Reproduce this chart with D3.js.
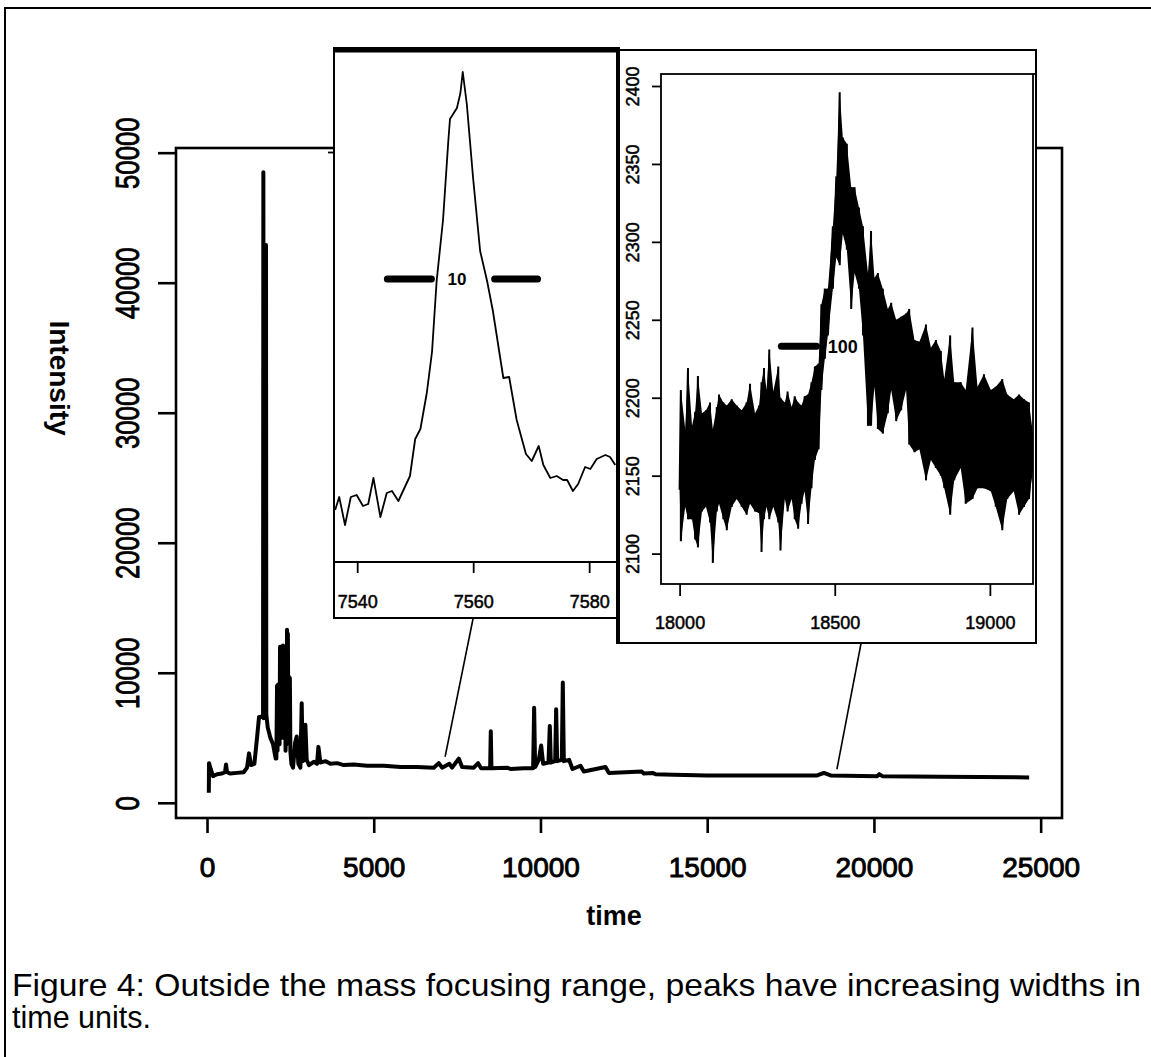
<!DOCTYPE html>
<html>
<head>
<meta charset="utf-8">
<script src="https://cdn.jsdelivr.net/npm/d3@7"></script>
<style>
body { margin:0; background:#fff; }
svg { display:block; }
text { font-family: "Liberation Sans", Arial, sans-serif; fill:#000; }
</style>
</head>
<body>
<svg id="fig" width="1151" height="1057"></svg>
<script>
// ---- main spectrum (time, intensity)
var mainTime = [54, 60, 110, 180, 300, 450, 540, 570, 600, 700, 900, 1100, 1200, 1260, 1320, 1420, 1500, 1560, 1640, 1680,
  1690, 1700, 1760, 1769, 1778, 1820, 1900, 1980, 2060, 2080, 2100, 2115, 2130, 2145, 2160, 2175, 2190, 2205, 2220, 2235,
  2250, 2265, 2280, 2295, 2310, 2325, 2340, 2355, 2370, 2385, 2400, 2412, 2425, 2440, 2455, 2470, 2485, 2500, 2530, 2580,
  2640, 2690, 2740, 2800, 2840, 2870, 2920, 2950, 2990, 3060, 3200, 3300, 3340, 3400, 3560, 3700, 3900, 4100, 4400, 4800,
  5300, 5800, 6300, 6800, 6950, 7050, 7270, 7350, 7550, 7650, 8000, 8130, 8220, 8490, 8510, 8530, 9000, 9100, 9500, 9780,
  9810, 9840, 9950, 10020, 10080, 10240, 10280, 10310, 10440, 10470, 10500, 10640, 10670, 10700, 10860, 10960, 11200, 11300, 11950, 12050,
  13040, 13100, 13360, 13450, 14000, 15000, 16500, 18300, 18500, 18700, 20100, 20160, 20250, 22000, 24654];
var mainIntensity = [770, 3050, 2600, 2050, 2200, 2250, 2350, 2950, 2350, 2250, 2300, 2350, 2700, 3800, 2900, 3000, 5000, 6600, 6600, 6800,
  48500, 6500, 7000, 42900, 6800, 5800, 5000, 4500, 3400, 3400, 9000, 4000, 9100, 5000, 9000, 4500, 12000, 5000, 12000, 6000,
  11800, 5000, 12100, 5500, 12000, 5000, 11500, 4000, 6000, 4500, 13300, 5000, 13000, 5500, 9700, 5000, 9600, 4000, 3000, 2700,
  4600, 5100, 3000, 2700, 7650, 3200, 3300, 6000, 3300, 2900, 3150, 3000, 4300, 3100, 3200, 3000, 3050, 2900, 2950, 2850,
  2850, 2750, 2750, 2700, 3050, 2700, 3000, 2700, 3400, 2750, 2700, 3050, 2650, 2650, 5500, 2650, 2700, 2600, 2650, 2650,
  7300, 2750, 3300, 4400, 3000, 3100, 5900, 3100, 3200, 7200, 3200, 3300, 9250, 3200, 3300, 2600, 2850, 2400, 2750, 2300,
  2400, 2250, 2300, 2200, 2150, 2100, 2100, 2100, 2300, 2100, 2050, 2200, 2050, 2000, 1950];
var mainXTicks = [0, 5000, 10000, 15000, 20000, 25000];
var mainYTicks = [0, 10000, 20000, 30000, 40000, 50000];

// ---- left inset: single peak near 7558
var peakTime = [7536.2, 7536.9, 7537.9, 7538.9, 7539.9, 7541.0, 7541.9, 7542.8, 7544.0, 7545.1, 7546.0, 7547.1, 7549.1, 7550.0,
  7550.9, 7552.0, 7552.9, 7553.7, 7554.8, 7555.7, 7556.0, 7557.2, 7557.8, 7558.2, 7558.9, 7560.0, 7561.2, 7562.4, 7563.4,
  7565.2, 7566.2, 7567.5, 7569.1, 7570.1, 7571.3, 7572.1, 7573.3, 7574.4, 7575.5, 7576.2, 7577.2, 7578.1, 7579.3, 7580.2,
  7581.3, 7582.8, 7583.6, 7584.5];
var peakIntensity = [2624, 2650, 2594, 2650, 2654, 2632, 2636, 2688, 2610, 2658, 2662, 2642, 2692, 2766,
  2786, 2858, 2940, 3082, 3204, 3360, 3406, 3428, 3458, 3500, 3436, 3286, 3142, 3082, 3022,
  2888, 2890, 2804, 2736, 2722, 2752, 2714, 2688, 2692, 2684, 2684, 2662, 2676, 2710, 2706,
  2726, 2734, 2730, 2714];
var peakXTicks = [7540, 7560, 7580];
var peakYTicks = [3340];
var peakWidthBars = [[7545.2, 7552.8], [7563.7, 7571.1]];
var peakWidthLevel = 3086;
var peakWidthLabel = {text: "10", time: 7557.2};

// ---- right inset: noisy broad peak near 18500 (upper / lower envelope of the trace)
var noiseTime = [18000, 18004, 18018, 18027, 18040, 18050, 18059, 18072, 18085, 18098, 18107, 18120, 18127, 18141, 18152,
  18168, 18184, 18200, 18216, 18227, 18243, 18256, 18264, 18272, 18280, 18289, 18302, 18318, 18325, 18339, 18348, 18361,
  18371, 18382, 18393, 18403, 18414, 18425, 18436, 18448, 18457, 18468, 18478, 18494, 18505, 18516, 18526, 18539, 18553,
  18564, 18578, 18591, 18607, 18617, 18628, 18639, 18655, 18671, 18682, 18698, 18714, 18730, 18740, 18757, 18773, 18794,
  18810, 18826, 18842, 18853, 18872, 18885, 18906, 18922, 18944, 18960, 18981, 19003, 19019, 19040, 19056, 19077, 19094,
  19110, 19126, 19140];
var noiseHigh = [2141, 2205, 2180, 2219, 2182, 2191, 2214, 2190, 2192, 2197, 2180, 2194, 2202, 2197, 2195,
  2199, 2195, 2192, 2197, 2209, 2190, 2195, 2210, 2219, 2205, 2231, 2204, 2220, 2200, 2197, 2204, 2194,
  2201, 2197, 2195, 2201, 2202, 2210, 2220, 2222, 2260, 2270, 2270, 2310, 2342, 2396, 2367, 2363, 2335,
  2335, 2322, 2310, 2280, 2307, 2277, 2280, 2270, 2257, 2261, 2250, 2252, 2254, 2257, 2237, 2236, 2247,
  2232, 2237, 2230, 2212, 2240, 2210, 2210, 2205, 2245, 2207, 2215, 2205, 2207, 2212, 2202, 2199, 2202,
  2199, 2197, 2175];
var noiseLow = [2141, 2108, 2130, 2122, 2122, 2109, 2104, 2127, 2130, 2120, 2094, 2127, 2132, 2122, 2115,
  2130, 2135, 2130, 2125, 2132, 2127, 2126, 2101, 2122, 2130, 2122, 2130, 2120, 2102, 2135, 2127, 2135,
  2122, 2116, 2132, 2140, 2119, 2142, 2160, 2167, 2205, 2225, 2240, 2270, 2290, 2285, 2305, 2295, 2257,
  2280, 2270, 2240, 2182, 2182, 2207, 2180, 2177, 2190, 2205, 2185, 2192, 2205, 2170, 2165, 2167, 2147,
  2160, 2155, 2150, 2142, 2125, 2147, 2155, 2132, 2135, 2142, 2142, 2140, 2130, 2115, 2135, 2140, 2125,
  2130, 2135, 2155];
var noiseXTicks = [18000, 18500, 19000];
var noiseYTicks = [2100, 2150, 2200, 2250, 2300, 2350, 2400];
var noiseWidthBars = [[18328, 18441], [18611, 18724]];
var noiseWidthLevel = 2233;
var noiseWidthLabel = {text: "100", time: 18526};

// connector lines: inset x position (at inset bottom) -> point on the main spectrum
var connectors = [
  {inset: "peak", insetTime: 7560, time: 7140, intensity: 3540},
  {inset: "noise", insetTime: 18585, time: 18890, intensity: 2580}
];

var captionLines = ["Figure 4: Outside the mass focusing range, peaks have increasing widths in", "time units."];

var svg = d3.select("#fig");
var black = "#000";

// outer figure frame (right/bottom run off the page)
svg.append("rect").attr("x", 5).attr("y", 8).attr("width", 1170).attr("height", 1080)
  .attr("fill", "none").attr("stroke", black).attr("stroke-width", 2);

// ---------- main plot ----------
var x = d3.scaleLinear().domain([-930, 25640]).range([176, 1062]);
var y = d3.scaleLinear().domain([-1170, 50360]).range([818, 148]);

var mainLine = d3.line()
  .x(function(d, i) { return x(mainTime[i]); })
  .y(function(d, i) { return y(mainIntensity[i]); });

svg.append("path")
  .attr("d", mainLine(mainTime))
  .attr("fill", "none").attr("stroke", black)
  .attr("stroke-width", 4).attr("stroke-linejoin", "round");

svg.append("rect").attr("x", 176).attr("y", 148).attr("width", 1062 - 176).attr("height", 818 - 148)
  .attr("fill", "none").attr("stroke", black).attr("stroke-width", 2.6);

var gx = svg.append("g").attr("transform", "translate(0,818)")
  .call(d3.axisBottom(x).tickValues(mainXTicks).tickSize(15).tickPadding(24).tickFormat(d3.format("d")));
gx.attr("font-family", null).attr("font-size", null);
gx.select(".domain").remove();
gx.selectAll("line").attr("stroke-width", 2.6);
gx.selectAll("text").style("font-size", "28px").attr("stroke", black).attr("stroke-width", 0.9);

var gy = svg.append("g").attr("transform", "translate(176,0)")
  .call(d3.axisLeft(y).tickValues(mainYTicks).tickSize(18).tickFormat(d3.format("d")));
gy.attr("font-family", null).attr("font-size", null);
gy.select(".domain").remove();
gy.selectAll("line").attr("stroke-width", 2.6);
gy.selectAll("text")
  .attr("x", null).attr("dy", "0.36em").attr("text-anchor", "middle")
  .attr("transform", "translate(-49,0) rotate(-90) scale(0.78,1)")
  .style("font-size", "33px").attr("stroke", black).attr("stroke-width", 0.9);

svg.append("text").attr("transform", "translate(60,378) rotate(90)")
  .attr("text-anchor", "middle").attr("dy", "0.35em")
  .style("font-size", "28px").style("font-weight", "bold").text("Intensity");

svg.append("text").attr("x", 614).attr("y", 925).attr("text-anchor", "middle")
  .style("font-size", "27px").style("font-weight", "bold").text("time");

// ---------- left inset ----------
var pBox = {x0: 334, y0: 48, x1: 617, y1: 618, axisY: 562};
var px = d3.scaleLinear().domain([7536, 7584.8]).range([pBox.x0, pBox.x1]);
var py = d3.scaleLinear().domain([2520, 3544]).range([pBox.axisY, 50]);

var gP = svg.append("g");
gP.append("rect").attr("x", pBox.x0).attr("y", pBox.y0).attr("width", pBox.x1 - pBox.x0).attr("height", pBox.y1 - pBox.y0)
  .attr("fill", "#fff").attr("stroke", black).attr("stroke-width", 2);
gP.append("line").attr("x1", pBox.x0 - 1).attr("x2", pBox.x1).attr("y1", pBox.y0 + 2).attr("y2", pBox.y0 + 2)
  .attr("stroke", black).attr("stroke-width", 5);

svg.append("clipPath").attr("id", "clipP").append("rect")
  .attr("x", pBox.x0).attr("y", 50).attr("width", pBox.x1 - pBox.x0).attr("height", pBox.axisY - 50);

gP.append("path")
  .attr("clip-path", "url(#clipP)")
  .attr("d", d3.line().x(function(d, i) { return px(peakTime[i]); }).y(function(d, i) { return py(peakIntensity[i]); })(peakTime))
  .attr("fill", "none").attr("stroke", black).attr("stroke-width", 1.8).attr("stroke-linejoin", "round");

gP.selectAll(".pbar").data(peakWidthBars).enter().append("line")
  .attr("x1", function(d) { return px(d[0]); }).attr("x2", function(d) { return px(d[1]); })
  .attr("y1", py(peakWidthLevel)).attr("y2", py(peakWidthLevel))
  .attr("stroke", black).attr("stroke-width", 7).attr("stroke-linecap", "round");
gP.append("text").attr("x", px(peakWidthLabel.time)).attr("y", py(peakWidthLevel)).attr("dy", "0.36em")
  .attr("text-anchor", "middle").style("font-size", "17px").style("font-weight", "bold").text(peakWidthLabel.text);

var gPx = gP.append("g").attr("transform", "translate(0," + pBox.axisY + ")")
  .call(d3.axisBottom(px).tickValues(peakXTicks).tickSize(11).tickPadding(22).tickFormat(d3.format("d")));
gPx.attr("font-family", null).attr("font-size", null);
gPx.select(".domain").attr("d", "M" + pBox.x0 + ",0H" + pBox.x1).attr("stroke-width", 2);
gPx.selectAll("line").attr("stroke-width", 1.8);
gPx.selectAll("text").style("font-size", "18px").attr("stroke", black).attr("stroke-width", 0.5);

var gPy = gP.append("g").attr("transform", "translate(" + pBox.x0 + ",0)")
  .call(d3.axisLeft(py).tickValues(peakYTicks).tickSize(6).tickFormat(""));
gPy.select(".domain").remove();
gPy.selectAll("line").attr("stroke-width", 1.8);

// ---------- right inset ----------
var nBox = {x0: 617, y0: 50, x1: 1036, y1: 643, px0: 661, py0: 74, px1: 1033, py1: 584};
var nx = d3.scaleLinear().domain([17940, 19139]).range([nBox.px0, nBox.px1]);
var ny = d3.scaleLinear().domain([2080.5, 2407.7]).range([nBox.py1, nBox.py0]);

var gN = svg.append("g");
gN.append("rect").attr("x", nBox.x0).attr("y", nBox.y0).attr("width", nBox.x1 - nBox.x0).attr("height", nBox.y1 - nBox.y0)
  .attr("fill", "#fff").attr("stroke", black).attr("stroke-width", 2);
gN.append("line").attr("x1", nBox.x0 + 1).attr("x2", nBox.x0 + 1).attr("y1", pBox.y0 - 1).attr("y2", nBox.y1)
  .attr("stroke", black).attr("stroke-width", 4);
gN.append("rect").attr("x", nBox.px0).attr("y", nBox.py0).attr("width", nBox.px1 - nBox.px0).attr("height", nBox.py1 - nBox.py0)
  .attr("fill", "none").attr("stroke", black).attr("stroke-width", 1.8);
gN.append("line").attr("x1", nBox.px1).attr("x2", nBox.x1).attr("y1", nBox.py0).attr("y2", nBox.py0)
  .attr("stroke", black).attr("stroke-width", 1.8);

svg.append("clipPath").attr("id", "clipN").append("rect")
  .attr("x", nBox.px0).attr("y", nBox.py0).attr("width", nBox.px1 - nBox.px0).attr("height", nBox.py1 - nBox.py0);

gN.selectAll(".nbar").data(noiseWidthBars).enter().append("line")
  .attr("x1", function(d) { return nx(d[0]); }).attr("x2", function(d) { return nx(d[1]); })
  .attr("y1", ny(noiseWidthLevel)).attr("y2", ny(noiseWidthLevel))
  .attr("stroke", black).attr("stroke-width", 7).attr("stroke-linecap", "round");

var gNd = gN.append("g").attr("clip-path", "url(#clipN)");
// band between the lower and upper envelope
gNd.append("path")
  .attr("d", d3.area()
    .x(function(d, i) { return nx(noiseTime[i]); })
    .y0(function(d, i) { return ny(noiseLow[i]); })
    .y1(function(d, i) { return ny(noiseHigh[i]); })(noiseTime))
  .attr("fill", black);
// trace swinging between the envelope values
var zig = [];
noiseTime.forEach(function(t, i) { zig.push([t, noiseHigh[i]]); zig.push([t, noiseLow[i]]); });
gNd.append("path")
  .attr("d", d3.line().x(function(d) { return nx(d[0]); }).y(function(d) { return ny(d[1]); })(zig))
  .attr("fill", "none").attr("stroke", black).attr("stroke-width", 2);

gN.append("text").attr("x", nx(noiseWidthLabel.time)).attr("y", ny(noiseWidthLevel)).attr("dy", "0.36em")
  .attr("text-anchor", "middle").style("font-size", "18px").style("font-weight", "bold").text(noiseWidthLabel.text);

var gNx = gN.append("g").attr("transform", "translate(0," + nBox.py1 + ")")
  .call(d3.axisBottom(nx).tickValues(noiseXTicks).tickSize(12).tickPadding(20).tickFormat(d3.format("d")));
gNx.attr("font-family", null).attr("font-size", null);
gNx.select(".domain").remove();
gNx.selectAll("line").attr("stroke-width", 1.8);
gNx.selectAll("text").style("font-size", "18px").attr("stroke", black).attr("stroke-width", 0.5);

var gNy = gN.append("g").attr("transform", "translate(" + nBox.px0 + ",0)")
  .call(d3.axisLeft(ny).tickValues(noiseYTicks).tickSize(9).tickFormat(d3.format("d")));
gNy.attr("font-family", null).attr("font-size", null);
gNy.select(".domain").remove();
gNy.selectAll("line").attr("stroke-width", 1.8);
gNy.selectAll("text")
  .attr("x", null).attr("dy", "0.36em").attr("text-anchor", "middle")
  .attr("transform", "translate(-28,0) rotate(-90)")
  .style("font-size", "18px").attr("stroke", black).attr("stroke-width", 0.5);

// ---------- connectors ----------
connectors.forEach(function(c) {
  var sx = c.inset === "peak" ? px(c.insetTime) : nx(c.insetTime);
  var sy = c.inset === "peak" ? pBox.y1 : nBox.y1;
  svg.append("line").attr("x1", sx).attr("y1", sy).attr("x2", x(c.time)).attr("y2", y(c.intensity))
    .attr("stroke", black).attr("stroke-width", 1.6);
});

// ---------- caption ----------
svg.append("text").attr("x", 12).attr("y", 996).attr("textLength", 1129).attr("lengthAdjust", "spacingAndGlyphs")
  .style("font-size", "30.5px").text(captionLines[0]);
svg.append("text").attr("x", 12).attr("y", 1028)
  .style("font-size", "30.5px").text(captionLines[1]);
</script>
</body>
</html>
